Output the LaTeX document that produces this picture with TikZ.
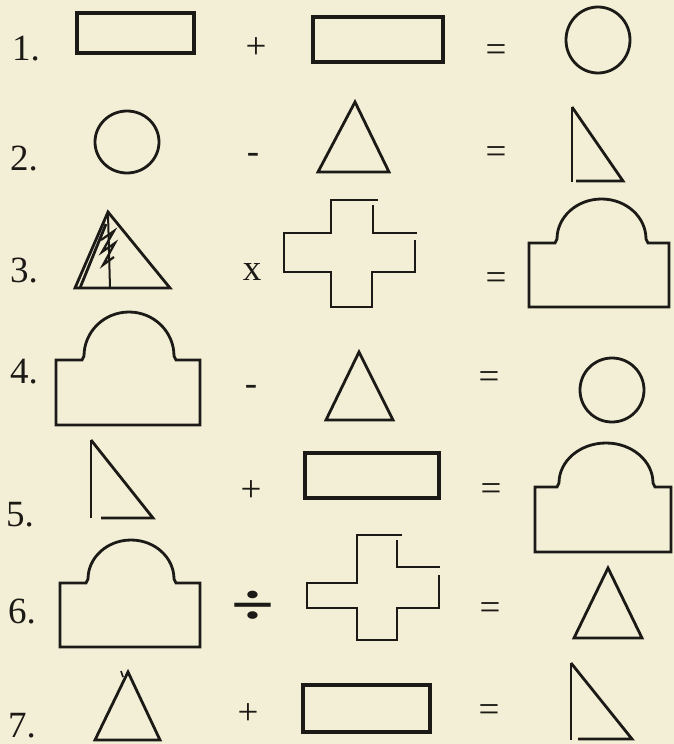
\documentclass[tikz,border=0pt]{standalone}
\usepackage{fontspec}
\setmainfont{Liberation Serif}
\definecolor{paper}{RGB}{243,239,214}
\definecolor{ink}{RGB}{28,26,22}
\begin{document}
\begin{tikzpicture}[x=1pt,y=-1pt,
  ln/.style={draw=ink,line width=2.8pt,line join=miter},
  lbl/.style={inner sep=0pt,text=ink,font=\fontsize{37}{40}\selectfont,anchor=base west},
  op/.style={inner sep=0pt,text=ink,font=\fontsize{37}{40}\selectfont}]
\fill[paper] (0,0) rectangle (674,744);
\useasboundingbox (0,0) rectangle (674,744);

% labels
\node[lbl] (n1) at (12,60) {1.};
\node[lbl] (n2) at (10,170) {2.};
\node[lbl] (n3) at (10,282) {3.};
\node[lbl] (n4) at (10,383) {4.};
\node[lbl] (n5) at (6,526) {5.};
\node[lbl] (n6) at (8,623) {6.};
\node[lbl] (n7) at (8,737) {7.};

% operators
\node[op] (p1) at (256,48) {+};
\node[op] (e1) at (496,53) {=};
\node[op] (m2) at (253,158) {-};
\node[op] (e2) at (496,155) {=};
\node[op] (x3) at (252,272) {x};
\node[op] (e3) at (496,281) {=};
\node[op] (m4) at (251,390) {-};
\node[op] (e4) at (489,380) {=};
\node[op] (p5) at (251,491) {+};
\node[op] (e5) at (491,492) {=};
\node[op,font=\bfseries\fontsize{58}{60}\selectfont,xscale=1.35] (d6) at (253,608) {÷};
\node[op] (e6) at (490,611) {=};
\node[op] (p7) at (248,714) {+};
\node[op] (e7) at (489,713) {=};

% row 1
\draw[ln,line width=3.2pt] (77,13) rectangle (194,53);
\draw[ln,line width=3.2pt] (313,17) rectangle (443,62);
\draw[ln] (598,40) ellipse[x radius=32pt,y radius=33pt];

% row 2
\draw[ln] (127,142) ellipse[x radius=32pt,y radius=31pt];
\draw[ln] (355,102) -- (389,172) -- (318,172) -- cycle;
\draw[ln] (572,107) -- (572,182);
\draw[ln] (576,181) -- (623,181) -- (572,107);

% row 3
\draw[ln] (75,288) -- (108,212) -- (170,288) -- cycle;
\draw[ln] (80,288) -- (106,224);
\draw[ln,line width=2pt] (108,214) -- (110,288);
\draw[ln,line width=2.2pt] (101,240) -- (114,231) -- (102,252) -- (115,243) -- (103,265) -- (114,257);
\draw[ln] (373,205) -- (373,233) -- (417,233);
\draw[ln] (378,200) -- (331,200) -- (331,233) -- (284,233) -- (284,272) -- (331,272)
  -- (331,307) -- (372,307) -- (372,272) -- (415,272) -- (415,240);
\draw[ln] (529,243) -- (555,243) -- (557,239)
  arc[start angle=180,end angle=0,x radius=44.5pt,y radius=40pt]
  -- (648,243) -- (669,243) -- (669,307) -- (529,307) -- cycle;

% row 4
\draw[ln] (56,360) -- (82,360) -- (84,356)
  arc[start angle=180,end angle=0,x radius=45pt,y radius=44pt]
  -- (176,360) -- (200,360) -- (200,425) -- (56,425) -- cycle;
\draw[ln] (359,352) -- (393,420) -- (326,420) -- cycle;
\draw[ln] (612,390) ellipse[x radius=32pt,y radius=32pt];

% row 5
\draw[ln] (91,440) -- (91,518);
\draw[ln] (101,518) -- (153,518) -- (91,440);
\draw[ln,line width=3.2pt] (305,453) rectangle (439,498);
\draw[ln] (535,487) -- (557,487) -- (559,483)
  arc[start angle=180,end angle=0,x radius=47pt,y radius=40pt]
  -- (655,487) -- (671,487) -- (671,552) -- (535,552) -- cycle;

% row 6
\draw[ln] (60,583) -- (86,583) -- (88,579)
  arc[start angle=180,end angle=0,x radius=43pt,y radius=39pt]
  -- (176,583) -- (200,583) -- (200,647) -- (60,647) -- cycle;
\draw[ln] (397,540) -- (397,567) -- (440,567);
\draw[ln] (402,535) -- (357,535) -- (357,583) -- (307,583) -- (307,608) -- (357,608)
  -- (357,640) -- (397,640) -- (397,608) -- (439,608) -- (439,575);
\draw[ln] (608,568) -- (642,638) -- (574,638) -- cycle;

% row 7
\draw[ln] (128,672) -- (160,740) -- (95,740) -- cycle;
\draw[ink,line width=1.6pt] (121,671) -- (123,677);
\draw[ln,line width=3.2pt] (303,685) rectangle (430,732);
\draw[ln] (571,663) -- (571,740);
\draw[ln] (578,739) -- (632,739) -- (571,663);
\end{tikzpicture}
\end{document}
